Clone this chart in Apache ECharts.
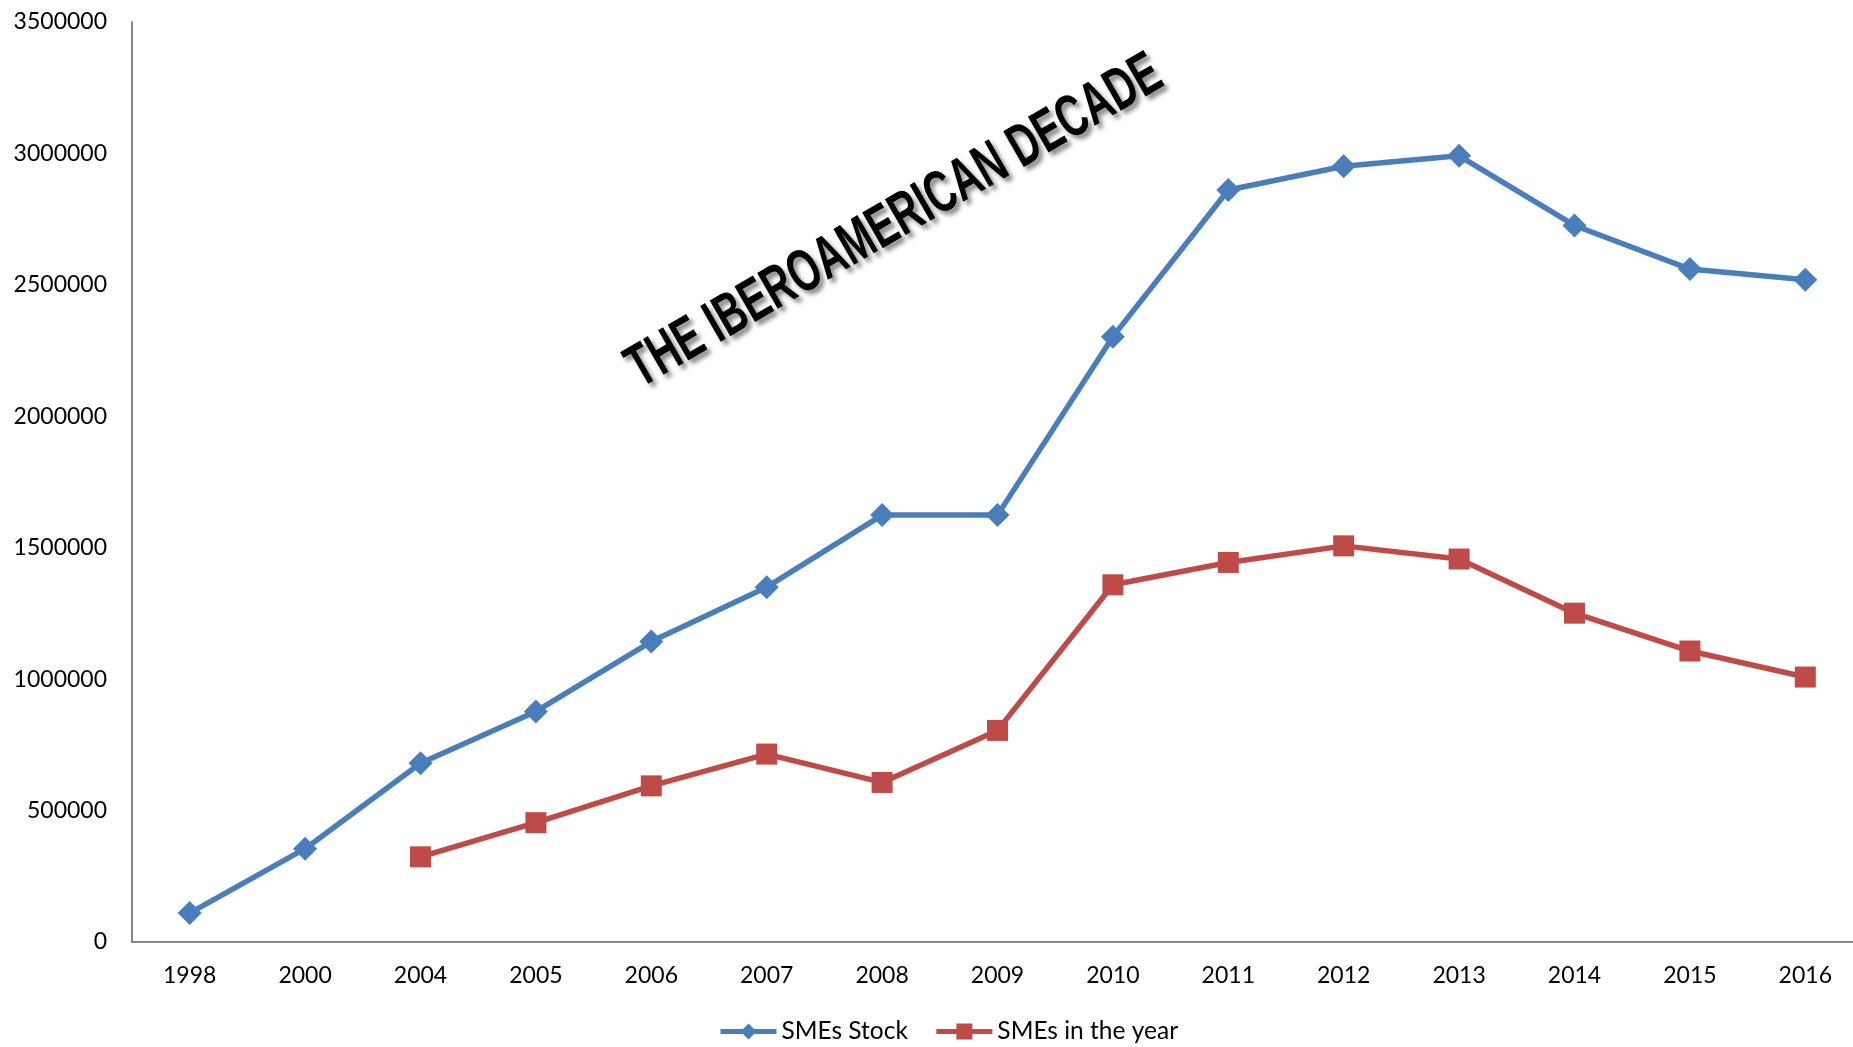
<!DOCTYPE html>
<html><head><meta charset="utf-8">
<script src="https://cdn.jsdelivr.net/npm/echarts@6/dist/echarts.min.js"></script>
<style>html,body{margin:0;padding:0;background:#fff}#c{width:1853px;height:1047px}</style>
</head><body><div id="c"></div>
<script>
const years = ['1998','2000','2004','2005','2006','2007','2008','2009','2010','2011','2012','2013','2014','2015','2016'];
const smesStock = [110000,355000,680000,877000,1143000,1350000,1624000,1624000,2303000,2861000,2951000,2991000,2726000,2560000,2519000];
const smesYear = [null,null,324000,454000,594000,715000,607000,805000,1359000,1444000,1507000,1457000,1251000,1107000,1008000];
const yTicks = {min:0,max:3500000,interval:500000};
const FONT = 'Lato, "Open Sans", sans-serif';
const chart = echarts.init(document.getElementById('c'));
chart.setOption({
  animation:false,
  grid:{left:132,top:22,height:920,width:1731,containLabel:false,outerBoundsMode:'none'},
  legend:{bottom:-2,left:713,itemWidth:56,itemHeight:20,itemGap:26,
    lineStyle:{width:5},
    textStyle:{fontFamily:FONT,fontSize:24.5,color:'#000'},
    data:['SMEs Stock','SMEs in the year']},
  xAxis:{type:'category',data:years,boundaryGap:true,
    axisLine:{lineStyle:{color:'#868686',width:2}},axisTick:{show:false},
    axisLabel:{fontFamily:FONT,fontSize:23,color:'#000',margin:22}},
  yAxis:{type:'value',min:yTicks.min,max:yTicks.max,interval:yTicks.interval,
    splitLine:{show:false},axisLine:{show:true,lineStyle:{color:'#868686',width:2}},axisTick:{show:false},
    axisLabel:{fontFamily:FONT,fontSize:23,color:'#000',margin:25,formatter:v=>String(v)}},
  series:[
    {name:'SMEs Stock',type:'line',data:smesStock,symbol:'diamond',symbolSize:24,
     lineStyle:{color:'#4a7ebb',width:5.5},itemStyle:{color:'#4a7ebb'}},
    {name:'SMEs in the year',type:'line',data:smesYear,symbol:'rect',symbolSize:21,connectNulls:false,
     lineStyle:{color:'#be4b48',width:5.5},itemStyle:{color:'#be4b48'}}
  ],
  graphic:[{type:'text',x:895,y:222,rotation:Math.PI*30/180,scaleX:0.66,
    style:{text:'THE IBEROAMERICAN DECADE',fontFamily:'"Liberation Sans",Arial,sans-serif',
      fontWeight:'bold',fontSize:60,fill:'#000',align:'center',verticalAlign:'middle',
      textShadowColor:'rgba(0,0,0,0.45)',textShadowBlur:4,textShadowOffsetX:4,textShadowOffsetY:4}}]
});
</script></body></html>
